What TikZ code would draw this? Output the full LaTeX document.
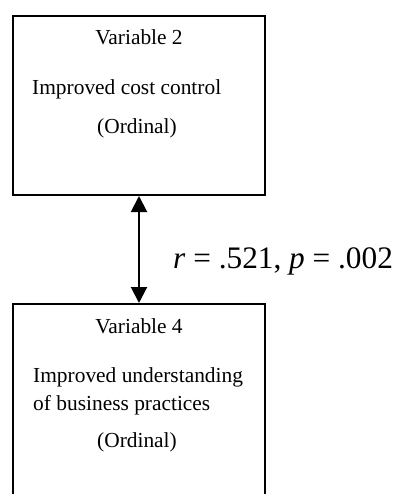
\documentclass[tikz,border=0pt]{standalone}
\usepackage{fontspec}
\setmainfont{Liberation Serif}
\usetikzlibrary{arrows.meta}
\begin{document}
\begin{tikzpicture}[x=1pt,y=-1pt,
  varbox/.style={draw, line width=2pt, rectangle, inner sep=0pt, minimum width=252pt},
  txt/.style={inner sep=0pt, font=\fontsize{21.4}{25}\selectfont},
  lbl/.style={inner sep=0pt, font=\fontsize{31.3}{36}\selectfont}]
\useasboundingbox (0,0) rectangle (401,494);
\node[varbox, minimum height=179pt] (v2) at (139,105.5) {};
\node[varbox, minimum height=200pt] (v4) at (139,404) {};
\node[txt, anchor=base] (v2a) at (139,45) {Variable 2};
\node[txt, anchor=base west] (v2b) at (32,95) {Improved cost control};
\node[txt, anchor=base] (v2c) at (137,134) {(Ordinal)};
\node[txt, anchor=base] (v4a) at (139,333) {Variable 4};
\node[txt, anchor=base west] (v4b) at (33,382) {Improved understanding};
\node[txt, anchor=base west] (v4c) at (33,410) {of business practices};
\node[txt, anchor=base] (v4d) at (137,447) {(Ordinal)};
\draw[line width=2pt, {Triangle[length=16pt,width=16pt]}-{Triangle[length=16pt,width=16pt]}] (v2.south) -- (v4.north);
\node[lbl, anchor=base west] (r) at (173,268) {\textit{r} = .521, \textit{p} = .002};
\end{tikzpicture}
\end{document}
